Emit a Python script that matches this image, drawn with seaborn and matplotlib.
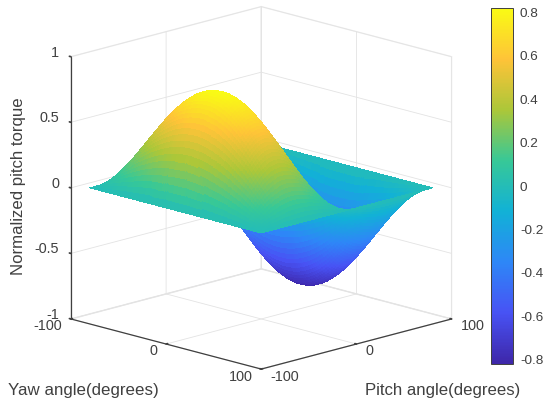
import numpy as np
import matplotlib
matplotlib.use('Agg')
import matplotlib.pyplot as plt
import seaborn as sns

# angles of the measured grid (degrees)
pitch_deg = list(range(-90, 92, 2))
yaw_deg = list(range(-90, 92, 2))

# torque along yaw = 0
pitch_profile = [0, 0.057, 0.114, 0.170, 0.226, 0.280, 0.333, 0.385, 0.435, 0.482, 0.527, 0.570, 0.609,
                 0.646, 0.680, 0.710, 0.737, 0.760, 0.780, 0.796, 0.808, 0.815, 0.820,
                 0.820, 0.815, 0.808, 0.796, 0.780, 0.760, 0.737, 0.710, 0.680, 0.646, 0.609, 0.570,
                 0.527, 0.482, 0.435, 0.385, 0.333, 0.280, 0.226, 0.170, 0.114, 0.057, 0,
                 -0.057, -0.114, -0.170, -0.226, -0.280, -0.333, -0.385, -0.435, -0.482, -0.527, -0.570,
                 -0.609, -0.646, -0.680, -0.710, -0.737, -0.760, -0.780, -0.796, -0.808, -0.815, -0.820,
                 -0.820, -0.815, -0.808, -0.796, -0.780, -0.760, -0.737, -0.710, -0.680, -0.646, -0.609,
                 -0.570, -0.527, -0.482, -0.435, -0.385, -0.333, -0.280, -0.226, -0.170, -0.114, -0.057, 0]
# relative falloff of the torque with yaw
yaw_profile = [0, 0.035, 0.070, 0.105, 0.139, 0.174, 0.208, 0.242, 0.276, 0.309, 0.342, 0.375, 0.407,
               0.438, 0.470, 0.500, 0.530, 0.559, 0.588, 0.616, 0.643, 0.669, 0.695, 0.719, 0.743, 0.766,
               0.788, 0.809, 0.829, 0.848, 0.866, 0.883, 0.899, 0.914, 0.927, 0.940, 0.951, 0.961, 0.970,
               0.978, 0.985, 0.990, 0.995, 0.998, 0.999, 1,
               0.999, 0.998, 0.995, 0.990, 0.985, 0.978, 0.970, 0.961, 0.951, 0.940, 0.927, 0.914, 0.899,
               0.883, 0.866, 0.848, 0.829, 0.809, 0.788, 0.766, 0.743, 0.719, 0.695, 0.669, 0.643, 0.616,
               0.588, 0.559, 0.530, 0.500, 0.470, 0.438, 0.407, 0.375, 0.342, 0.309, 0.276, 0.242, 0.208,
               0.174, 0.139, 0.105, 0.070, 0.035, 0]

z_ticks = [-1, -0.5, 0, 0.5, 1]
z_labels = ['-1', '-0.5', '0', '0.5', '1']
xy_ticks = [-100, 0, 100]
xy_labels = ['-100', '0', '100']
cbar_ticks = [-0.8, -0.6, -0.4, -0.2, 0, 0.2, 0.4, 0.6, 0.8]
cbar_labels = ['-0.8', '-0.6', '-0.4', '-0.2', '0', '0.2', '0.4', '0.6', '0.8']

parula_colors = [(0.2422, 0.1504, 0.6603), (0.2810, 0.3228, 0.9579), (0.1786, 0.5289, 0.9682),
                 (0.0689, 0.6948, 0.8394), (0.2161, 0.7843, 0.5923), (0.6720, 0.7793, 0.2227),
                 (0.9970, 0.7659, 0.2199), (0.9769, 0.9839, 0.0805)]

sns.set_theme(style='white')
plt.rcParams['font.family'] = ['Liberation Sans', 'DejaVu Sans']
parula = sns.blend_palette(parula_colors, n_colors=256, as_cmap=True)

W, H = 543, 404
dark = '#404040'
fig = plt.figure(figsize=(W / 100, H / 100), dpi=100)
ax = fig.add_axes([-15.7 / W, 8.7 / H, 1, 1], projection='3d')
ax.set_proj_type('ortho')
ax.set_box_aspect((1, 1, 1.01), zoom=1.124)
ax.view_init(elev=15.26, azim=-135)

# Surface
P, Y = np.meshgrid(pitch_deg, yaw_deg)
Z = np.outer(yaw_profile, pitch_profile)
ax.plot_surface(P, Y, Z, cmap=parula, vmin=-0.82, vmax=0.82, rstride=1, cstride=1,
                linewidth=0, antialiased=False, shade=False)

ax.set_xlim(-100, 100)
ax.set_ylim(100, -100)
ax.set_zlim(-1, 1)
ax.set_xticks(xy_ticks)
ax.set_yticks(xy_ticks)
ax.set_zticks(z_ticks)
ax.set_xticklabels(xy_labels, ha='left', va='bottom')
ax.set_yticklabels(xy_labels, ha='right', va='bottom')
ax.set_zticklabels(z_labels, ha='right', va='baseline')

for axis in [ax.xaxis, ax.yaxis, ax.zaxis]:
    axis.pane.set_facecolor((1, 1, 1, 0))
    axis.pane.set_edgecolor('#e3e3e3')
    axis.line.set_color(dark)
    axis.line.set_linewidth(0.9)
    axis._axinfo['grid']['color'] = '#e3e3e3'
    axis._axinfo['grid']['linewidth'] = 0.6
    axis._axinfo['tick']['inward_factor'] = 0.0
    axis._axinfo['tick']['outward_factor'] = 0.1
    axis.set_tick_params(labelsize=10.4, labelcolor=dark, colors=dark, pad=-1)
ax.zaxis.set_tick_params(pad=-3.3)
ax.zaxis.set_ticks_position('lower')

# Axis titles
fig.text(8 / W, 1 - 390 / H, 'Yaw angle(degrees)', fontsize=12.2, color=dark, va='center')
fig.text(365 / W, 1 - 390 / H, 'Pitch angle(degrees)', fontsize=12.1, color=dark, va='center')
fig.text(19 / W, 1 - 186 / H, 'Normalized pitch torque', fontsize=12.1, color=dark,
         rotation=90, ha='center', va='center')

# Colorbar
cax = fig.add_axes([491 / W, 1 - 364 / H, 22 / W, 356 / H])
sm = plt.cm.ScalarMappable(norm=plt.Normalize(-0.82, 0.82), cmap=parula)
cbar = fig.colorbar(sm, cax=cax, ticks=cbar_ticks)
cbar.ax.set_yticklabels(cbar_labels)
cbar.ax.tick_params(direction='in', length=3, width=0.7, labelsize=9.7, labelcolor=dark, color=dark, pad=5,
                    right=True, left=False)
cbar.outline.set_edgecolor(dark)
cbar.outline.set_linewidth(0.7)

fig.savefig('out.png', dpi=100, facecolor='white')
